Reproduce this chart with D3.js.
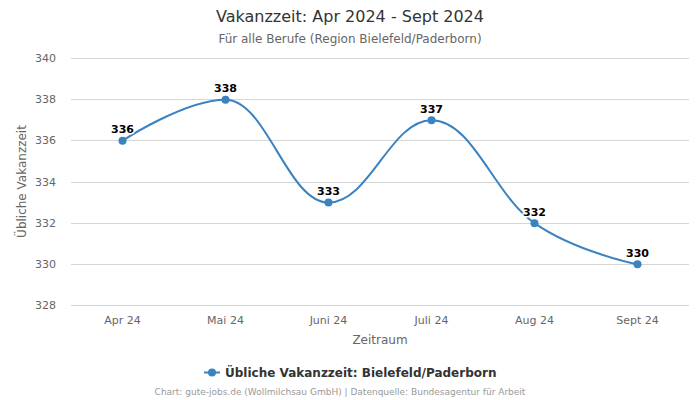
<!DOCTYPE html>
<html><head><meta charset="utf-8">
<script src="https://cdn.jsdelivr.net/npm/d3@7"></script>
<style>
body{margin:0;background:#fff;}
svg{font-family:"DejaVu Sans",sans-serif;display:block;}
</style></head>
<body><svg id="c" width="700" height="400"></svg>
<script>
const categories = ["Apr 24","Mai 24","Juni 24","Juli 24","Aug 24","Sept 24"];
const values = [336,338,333,337,332,330];
const yTicks = [328,330,332,334,336,338,340];
const seriesName = "Übliche Vakanzzeit: Bielefeld/Paderborn";
const color = "#3a82c0";

const svg = d3.select("#c");
const L=71, R=689, T=58, B=305;
const x = d3.scaleBand().domain(categories).range([L,R]);
const y = d3.scaleLinear().domain([328,340]).range([B,T]);

svg.append("text").attr("x",350).attr("y",22).attr("text-anchor","middle")
  .attr("font-size",16).attr("fill","#333").text("Vakanzzeit: Apr 2024 - Sept 2024");
svg.append("text").attr("x",350).attr("y",43).attr("text-anchor","middle")
  .attr("font-size",12).attr("fill","#666").text("Für alle Berufe (Region Bielefeld/Paderborn)");

// grid
svg.append("g").selectAll("line").data(yTicks.filter(d=>d!==328)).join("line")
  .attr("x1",L).attr("x2",R).attr("y1",d=>Math.round(y(d))+0.5).attr("y2",d=>Math.round(y(d))+0.5)
  .attr("stroke","#d6d6d6").attr("stroke-width",1);
svg.append("line").attr("x1",L).attr("x2",R).attr("y1",y(328)+0.5).attr("y2",y(328)+0.5)
  .attr("stroke","#ccd6eb");

// y labels
svg.append("g").selectAll("text").data(yTicks).join("text")
  .attr("x",56).attr("y",d=>y(d)+4).attr("text-anchor","end")
  .attr("font-size",11).attr("fill","#666").text(d=>d);
// x labels
svg.append("g").selectAll("text").data(categories).join("text")
  .attr("x",d=>x(d)+x.bandwidth()/2).attr("y",324).attr("text-anchor","middle")
  .attr("font-size",11).attr("fill","#666").text(d=>d);

svg.append("text").attr("transform","translate(26,"+((T+B)/2)+") rotate(-90)")
  .attr("text-anchor","middle").attr("font-size",12).attr("fill","#666").text("Übliche Vakanzzeit");
svg.append("text").attr("x",(L+R)/2).attr("y",344).attr("text-anchor","middle")
  .attr("font-size",12).attr("fill","#666").text("Zeitraum");

// Highcharts-style spline
const pts = values.map((v,i)=>({x:x(categories[i])+x.bandwidth()/2, y:y(v)+0.5}));
const sm=1.5, den=sm+1;
pts.forEach((p,i)=>{
  if(i===0||i===pts.length-1) return;
  const a=pts[i-1], n=pts[i+1];
  let lcx=(sm*p.x+a.x)/den, lcy=(sm*p.y+a.y)/den;
  let rcx=(sm*p.x+n.x)/den, rcy=(sm*p.y+n.y)/den;
  const corr=((rcy-lcy)*(rcx-p.x))/(rcx-lcx)+p.y-rcy;
  lcy+=corr; rcy+=corr;
  if(lcy>a.y&&lcy>p.y){lcy=Math.max(a.y,p.y);rcy=2*p.y-lcy;}
  else if(lcy<a.y&&lcy<p.y){lcy=Math.min(a.y,p.y);rcy=2*p.y-lcy;}
  if(rcy>n.y&&rcy>p.y){rcy=Math.max(n.y,p.y);lcy=2*p.y-rcy;}
  else if(rcy<n.y&&rcy<p.y){rcy=Math.min(n.y,p.y);lcy=2*p.y-rcy;}
  p.lcx=lcx;p.lcy=lcy;p.rcx=rcx;p.rcy=rcy;
});
const path=d3.path();
pts.forEach((p,i)=>{
  if(i===0){path.moveTo(p.x,p.y);return;}
  const a=pts[i-1];
  path.bezierCurveTo(a.rcx??a.x,a.rcy??a.y,p.lcx??p.x,p.lcy??p.y,p.x,p.y);
});
svg.append("path").attr("d",path.toString()).attr("fill","none")
  .attr("stroke",color).attr("stroke-width",2);
svg.append("g").selectAll("circle").data(pts).join("circle")
  .attr("cx",d=>d.x).attr("cy",d=>d.y).attr("r",4).attr("fill",color);

// data labels
svg.append("g").selectAll("text").data(values).join("text")
  .attr("x",(d,i)=>pts[i].x).attr("y",(d,i)=>pts[i].y-7.5)
  .attr("text-anchor","middle").attr("font-size",11).attr("font-weight","bold")
  .attr("fill","#000").attr("stroke","#fff").attr("stroke-width",3)
  .attr("stroke-linejoin","round").attr("paint-order","stroke").text(d=>d);

// legend
const lg=svg.append("g");
lg.append("line").attr("x1",204).attr("x2",220).attr("y1",372.5).attr("y2",372.5)
  .attr("stroke",color).attr("stroke-width",2);
lg.append("circle").attr("cx",212).attr("cy",372.5).attr("r",4).attr("fill",color);
lg.append("text").attr("x",225).attr("y",377).attr("font-size",12).attr("font-weight","bold")
  .attr("fill","#333").text(seriesName);

svg.append("text").attr("x",340).attr("y",395).attr("text-anchor","middle")
  .attr("font-size",9).attr("fill","#999")
  .text("Chart: gute-jobs.de (Wollmilchsau GmbH) | Datenquelle: Bundesagentur für Arbeit");
</script></body></html>
